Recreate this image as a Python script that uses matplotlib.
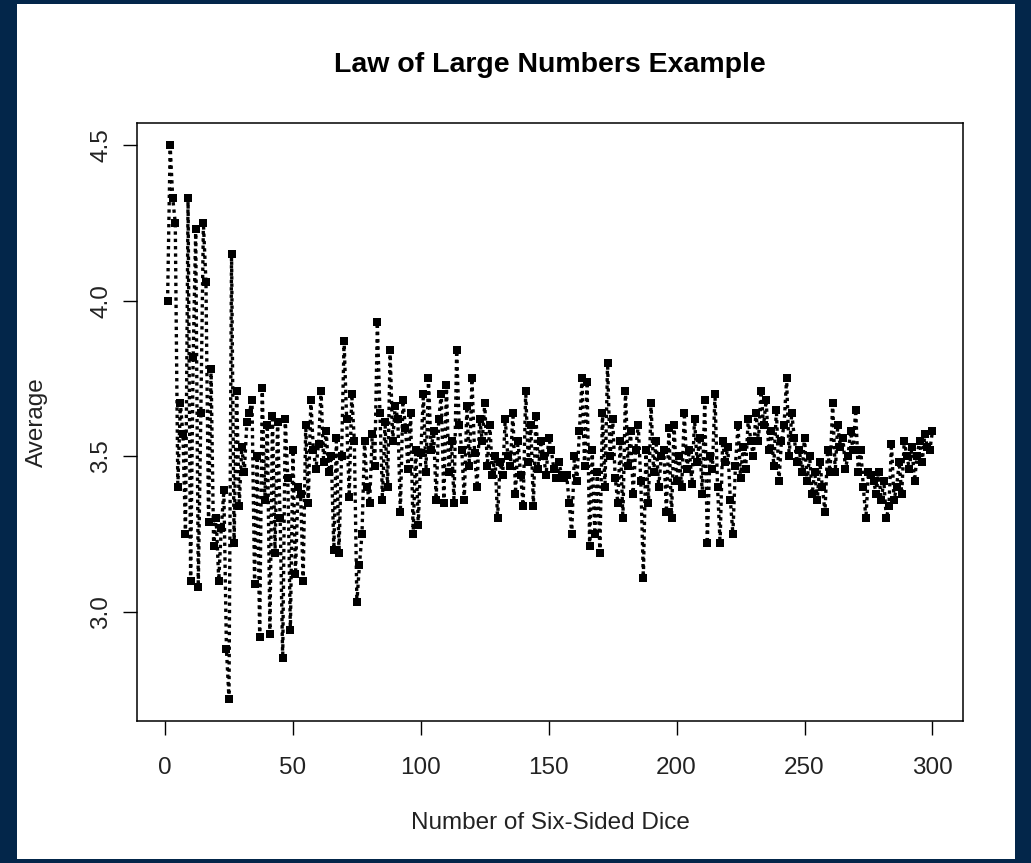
import numpy as np
import matplotlib
matplotlib.use("Agg")
import matplotlib.pyplot as plt
from matplotlib.patches import Rectangle

# average of n six-sided dice
averages = [
    4.00, 4.50, 4.33, 4.25, 3.40, 3.67, 3.57, 3.25, 4.33, 3.10,
    3.82, 4.23, 3.08, 3.64, 4.25, 4.06, 3.29, 3.78, 3.21, 3.30,
    3.10, 3.27, 3.39, 2.88, 2.72, 4.15, 3.22, 3.71, 3.34, 3.53,
    3.45, 3.61, 3.64, 3.68, 3.09, 3.50, 2.92, 3.72, 3.36, 3.60,
    2.93, 3.63, 3.19, 3.61, 3.30, 2.85, 3.62, 3.43, 2.94, 3.52,
    3.12, 3.40, 3.38, 3.10, 3.60, 3.35, 3.68, 3.52, 3.46, 3.54,
    3.71, 3.48, 3.58, 3.45, 3.50, 3.20, 3.56, 3.19, 3.50, 3.87,
    3.62, 3.37, 3.70, 3.55, 3.03, 3.15, 3.25, 3.55, 3.40, 3.35,
    3.57, 3.47, 3.93, 3.64, 3.36, 3.61, 3.40, 3.84, 3.55, 3.66,
    3.62, 3.32, 3.68, 3.59, 3.46, 3.64, 3.25, 3.52, 3.28, 3.51,
    3.70, 3.45, 3.75, 3.52, 3.58, 3.36, 3.62, 3.70, 3.35, 3.73,
    3.45, 3.55, 3.35, 3.84, 3.60, 3.52, 3.36, 3.66, 3.47, 3.75,
    3.51, 3.40, 3.62, 3.55, 3.67, 3.47, 3.60, 3.44, 3.50, 3.30,
    3.48, 3.44, 3.62, 3.50, 3.47, 3.64, 3.38, 3.55, 3.44, 3.34,
    3.71, 3.48, 3.60, 3.34, 3.63, 3.46, 3.55, 3.50, 3.44, 3.56,
    3.52, 3.46, 3.43, 3.48, 3.44, 3.43, 3.44, 3.35, 3.25, 3.50,
    3.42, 3.58, 3.75, 3.47, 3.74, 3.21, 3.52, 3.25, 3.45, 3.19,
    3.64, 3.40, 3.80, 3.50, 3.62, 3.43, 3.35, 3.55, 3.30, 3.71,
    3.47, 3.58, 3.38, 3.52, 3.60, 3.42, 3.11, 3.52, 3.35, 3.67,
    3.45, 3.55, 3.40, 3.50, 3.52, 3.32, 3.59, 3.30, 3.60, 3.42,
    3.50, 3.40, 3.64, 3.46, 3.52, 3.41, 3.62, 3.48, 3.56, 3.38,
    3.68, 3.22, 3.50, 3.46, 3.70, 3.40, 3.22, 3.55, 3.48, 3.53,
    3.36, 3.25, 3.47, 3.60, 3.43, 3.53, 3.46, 3.62, 3.55, 3.50,
    3.64, 3.55, 3.71, 3.60, 3.68, 3.52, 3.58, 3.47, 3.65, 3.42,
    3.55, 3.60, 3.75, 3.50, 3.64, 3.56, 3.48, 3.52, 3.45, 3.56,
    3.42, 3.50, 3.38, 3.45, 3.36, 3.48, 3.40, 3.32, 3.52, 3.45,
    3.67, 3.45, 3.60, 3.53, 3.56, 3.46, 3.50, 3.58, 3.52, 3.65,
    3.45, 3.52, 3.40, 3.30, 3.45, 3.44, 3.42, 3.38, 3.45, 3.36,
    3.42, 3.30, 3.34, 3.54, 3.36, 3.40, 3.48, 3.38, 3.55, 3.50,
    3.46, 3.53, 3.42, 3.50, 3.55, 3.48, 3.57, 3.53, 3.52, 3.58,
]
n_dice = list(range(1, len(averages) + 1))
x_ticks = [0, 50, 100, 150, 200, 250, 300]
y_ticks = [3.0, 3.5, 4.0, 4.5]

plt.rcParams['font.family'] = ['Liberation Sans', 'DejaVu Sans']

fig = plt.figure(figsize=(10.31, 8.63), dpi=100, facecolor='#03264a')
# white panel inside the navy frame
fig.patches.append(Rectangle((17 / 1031, 4 / 863), 998 / 1031, 855 / 863,
                             transform=fig.transFigure, facecolor='white',
                             edgecolor='none', zorder=-10))

ax = fig.add_axes([137 / 1031, 1 - 721 / 863, 826 / 1031, 598 / 863])
ax.set_facecolor('white')
ax.plot(n_dice, averages, color='black', linestyle=(0, (1, 1.2)), linewidth=2.4,
        marker='s', markersize=5.5, markeredgewidth=0)

lo, hi = min(averages), max(averages)
pad = 0.04 * (hi - lo)
ax.set_ylim(lo - pad, hi + pad)
xpad = 0.04 * (n_dice[-1] - n_dice[0])
ax.set_xlim(n_dice[0] - xpad, n_dice[-1] + xpad)

ax.set_xticks(x_ticks)
ax.set_yticks(y_ticks)
ax.set_xticklabels([str(t) for t in x_ticks])
ax.set_yticklabels(['%.1f' % t for t in y_ticks], rotation=90, va='center')
ax.tick_params(direction='out', length=10, width=1, labelsize=17.5, colors='black',
               labelcolor='#222222')
ax.tick_params(axis='x', pad=16)
ax.tick_params(axis='y', pad=8)
for s in ax.spines.values():
    s.set_linewidth(1.1)

ax.set_xlabel('Number of Six-Sided Dice', fontsize=17.5, labelpad=24, color='#222222')
ax.set_ylabel('Average', fontsize=17.5, labelpad=30, color='#222222')
ax.set_title('Law of Large Numbers Example', fontsize=20.5, fontweight='bold',
             pad=37)

fig.savefig('out.png', dpi=100, facecolor=fig.get_facecolor())
